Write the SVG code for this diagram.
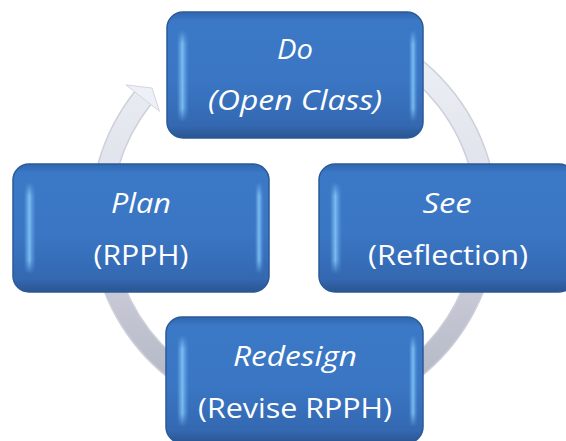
<svg xmlns="http://www.w3.org/2000/svg" width="566" height="441" viewBox="0 0 566 441">
  <defs>
    <linearGradient id="boxFill" x1="0" y1="0" x2="0" y2="1">
      <stop offset="0" stop-color="#2f66ae"/>
      <stop offset="0.07" stop-color="#3b78c6"/>
      <stop offset="0.55" stop-color="#3a76c4"/>
      <stop offset="0.9" stop-color="#3468b1"/>
      <stop offset="1" stop-color="#2a5591"/>
    </linearGradient>
    <linearGradient id="stripe" x1="0" y1="0" x2="1" y2="0">
      <stop offset="0" stop-color="#7cc0f4" stop-opacity="0"/>
      <stop offset="0.45" stop-color="#82c4f6" stop-opacity="0.9"/>
      <stop offset="1" stop-color="#5d9ee4" stop-opacity="0"/>
    </linearGradient>
    <linearGradient id="stripeV" x1="0" y1="0" x2="0" y2="1">
      <stop offset="0" stop-color="#fff" stop-opacity="0"/>
      <stop offset="0.15" stop-color="#fff" stop-opacity="1"/>
      <stop offset="0.85" stop-color="#fff" stop-opacity="1"/>
      <stop offset="1" stop-color="#fff" stop-opacity="0"/>
    </linearGradient>
    <mask id="fadeMask" maskContentUnits="objectBoundingBox">
      <rect x="0" y="0" width="1" height="1" fill="url(#stripeV)"/>
    </mask>
    <linearGradient id="ringGrad" gradientUnits="userSpaceOnUse" x1="0" y1="25" x2="0" y2="411">
      <stop offset="0" stop-color="#f0f2f8"/>
      <stop offset="0.4" stop-color="#dfe2ea"/>
      <stop offset="1" stop-color="#aeb1c0"/>
    </linearGradient>
  </defs>
  <style>
    .box { fill: url(#boxFill); stroke: #2b5a98; stroke-width: 1.5; }
    .hl { fill: url(#stripe); }
    .t1 { font-family: "Open Sans", "Liberation Sans", sans-serif; font-size: 28px; font-style: italic; fill: #ffffff; text-anchor: middle; }
    .t2 { font-family: "Open Sans", "Liberation Sans", sans-serif; font-size: 28px; fill: #ffffff; text-anchor: middle; }
    .ringEdge { fill: none; stroke: #cdd0da; stroke-width: 22; }
    .ring { fill: none; stroke: url(#ringGrad); stroke-width: 19; }
    .head { fill: #eef0f7; stroke: #d3d6e0; stroke-width: 1; }
  </style>

  <g id="connectors">
    <path class="ringEdge" d="M 390.5 50.9 A 193 193 0 1 1 142.7 98.1"/>
    <path class="ring" d="M 390.5 50.9 A 193 193 0 1 1 142.7 98.1"/>
    <polygon class="head" points="126,84.9 159.4,111.3 152,88"/>
  </g>

  <g id="node-do">
    <rect class="box" x="167" y="12" width="256" height="126" rx="16" ry="16"/>
    <rect class="hl" x="177" y="30" width="12" height="92" rx="5" mask="url(#fadeMask)"/>
    <rect class="hl" x="409" y="30" width="9" height="92" rx="4" mask="url(#fadeMask)"/>
    <text class="t1" x="295" y="59" textLength="36" lengthAdjust="spacingAndGlyphs">Do</text>
    <text class="t1" x="295" y="110" textLength="174" lengthAdjust="spacingAndGlyphs">(Open Class)</text>
  </g>

  <g id="node-plan">
    <rect class="box" x="13" y="164" width="256" height="128" rx="16" ry="16"/>
    <rect class="hl" x="24" y="182" width="12" height="92" rx="5" mask="url(#fadeMask)"/>
    <rect class="hl" x="255" y="182" width="9" height="92" rx="4" mask="url(#fadeMask)"/>
    <text class="t1" x="141" y="213" textLength="60" lengthAdjust="spacingAndGlyphs">Plan</text>
    <text class="t2" x="141" y="265" textLength="95" lengthAdjust="spacingAndGlyphs">(RPPH)</text>
  </g>

  <g id="node-see">
    <rect class="box" x="319" y="164" width="256" height="128" rx="16" ry="16"/>
    <rect class="hl" x="330" y="182" width="12" height="92" rx="5" mask="url(#fadeMask)"/>
    <text class="t1" x="447" y="213" textLength="49" lengthAdjust="spacingAndGlyphs">See</text>
    <text class="t2" x="448" y="265" textLength="160" lengthAdjust="spacingAndGlyphs">(Reflection)</text>
  </g>

  <g id="node-redesign">
    <rect class="box" x="166" y="317" width="257" height="126" rx="16" ry="16"/>
    <rect class="hl" x="177" y="335" width="12" height="92" rx="5" mask="url(#fadeMask)"/>
    <rect class="hl" x="409" y="335" width="9" height="92" rx="4" mask="url(#fadeMask)"/>
    <text class="t1" x="295" y="366" textLength="124" lengthAdjust="spacingAndGlyphs">Redesign</text>
    <text class="t2" x="295" y="418" textLength="194" lengthAdjust="spacingAndGlyphs">(Revise RPPH)</text>
  </g>
</svg>
